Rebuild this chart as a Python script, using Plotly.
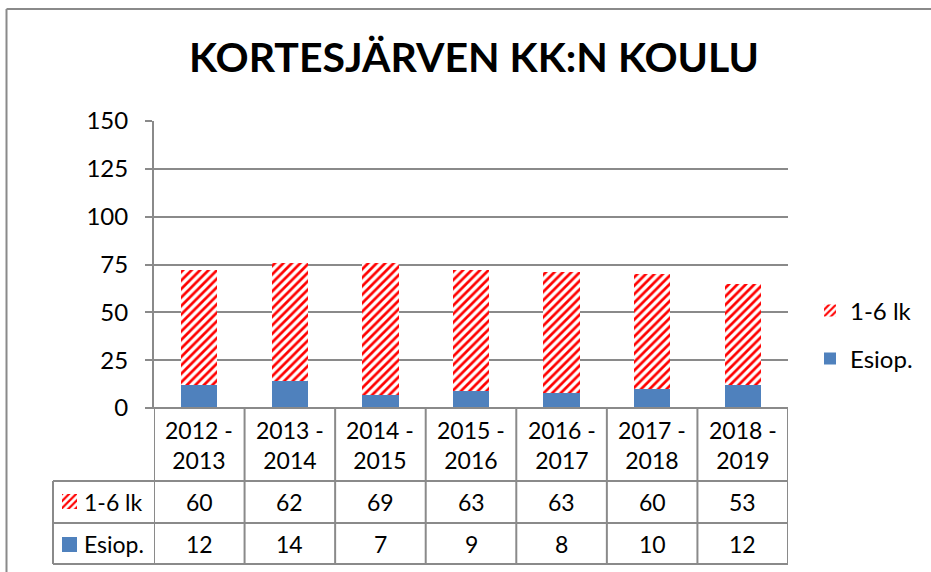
import plotly.graph_objects as go

categories = ["2012 - 2013", "2013 - 2014", "2014 - 2015", "2015 - 2016",
              "2016 - 2017", "2017 - 2018", "2018 - 2019"]
cat_labels = ["2012 -<br>2013", "2013 -<br>2014", "2014 -<br>2015", "2015 -<br>2016",
              "2016 -<br>2017", "2017 -<br>2018", "2018 -<br>2019"]
esiop = [12, 14, 7, 9, 8, 10, 12]
lk16 = [60, 62, 69, 63, 63, 60, 53]
y_ticks = [0, 25, 50, 75, 100, 125, 150]
title_text = "KORTESJÄRVEN KK:N KOULU"

W, H = 931, 572
FONT = "Lato"
GRID = "#8a8a8a"
BLUE = "#4F81BD"
RED = "#FF0000"


def px(x):
    return x / W


def py(y):
    return 1 - y / H


x_dom = [px(154), px(788)]
y_dom = [py(408), py(121)]

fig = go.Figure()

fig.add_trace(go.Bar(
    x=list(range(len(categories))), y=esiop, name="Esiop.",
    marker=dict(color=BLUE, line=dict(width=0)),
    width=0.4, legend="legend2", hoverinfo="skip",
))
fig.add_trace(go.Bar(
    x=list(range(len(categories))), y=lk16, name="1-6 lk",
    marker=dict(color="white", line=dict(width=0),
                pattern=dict(shape="/", fgcolor=RED, bgcolor="white",
                             size=6, solidity=0.45, fillmode="replace")),
    width=0.4, legend="legend", hoverinfo="skip",
))

# tiny pattern key in the data table
fig.add_trace(go.Bar(
    x=[0], y=[1], width=[1], showlegend=False, xaxis="x2", yaxis="y2",
    marker=dict(color="white", line=dict(width=0),
                pattern=dict(shape="/", fgcolor=RED, bgcolor="white",
                             size=5, solidity=0.45, fillmode="replace")),
    hoverinfo="skip",
))

shapes = []
line = dict(color=GRID, width=2)
# outer chart border (left + top)
shapes.append(dict(type="line", xref="paper", yref="paper",
                   x0=px(6.5), x1=px(6.5), y0=py(9), y1=0, line=line))
shapes.append(dict(type="line", xref="paper", yref="paper",
                   x0=px(6.5), x1=1, y0=py(9), y1=py(9), line=line))

# table horizontal lines
shapes.append(dict(type="line", xref="paper", yref="paper",
                   x0=px(147), x1=x_dom[1], y0=py(408), y1=py(408), line=line))
for yy in [481, 523, 564]:
    shapes.append(dict(type="line", xref="paper", yref="paper",
                       x0=px(53), x1=x_dom[1], y0=py(yy), y1=py(yy), line=line))
# table vertical lines at category boundaries
for k in range(len(categories) + 1):
    shapes.append(dict(type="line", xref="x", yref="paper",
                       x0=k - 0.5, x1=k - 0.5, y0=py(408), y1=py(564), line=line))
shapes.append(dict(type="line", xref="paper", yref="paper",
                   x0=px(53), x1=px(53), y0=py(481), y1=py(564), line=line))
# blue key square
shapes.append(dict(type="rect", xref="paper", yref="paper",
                   x0=px(62), x1=px(77), y0=py(552), y1=py(537),
                   fillcolor=BLUE, line=dict(width=0)))

annotations = []
tf = dict(family=FONT, size=23, color="black")
for i, lab in enumerate(cat_labels):
    annotations.append(dict(x=i, y=py(445), xref="x", yref="paper", text=lab,
                            showarrow=False, font=tf, align="center",
                            xanchor="center", yanchor="middle"))
    annotations.append(dict(x=i, y=py(502), xref="x", yref="paper", text=str(lk16[i]),
                            showarrow=False, font=tf, xanchor="center", yanchor="middle"))
    annotations.append(dict(x=i, y=py(543.5), xref="x", yref="paper", text=str(esiop[i]),
                            showarrow=False, font=tf, xanchor="center", yanchor="middle"))
annotations.append(dict(x=px(82), y=py(502), xref="paper", yref="paper", text="1-6 lk",
                        showarrow=False, font=tf, xanchor="left", yanchor="middle"))
annotations.append(dict(x=px(82), y=py(543.5), xref="paper", yref="paper", text="Esiop.",
                        showarrow=False, font=tf, xanchor="left", yanchor="middle"))

fig.update_layout(
    width=W, height=H,
    margin=dict(l=0, r=0, t=0, b=0, autoexpand=False),
    paper_bgcolor="white", plot_bgcolor="white",
    barmode="stack",
    title=dict(text=f"<b>{title_text}</b>", x=px(474), y=py(58),
               xanchor="center", yanchor="middle",
               font=dict(family=FONT, size=41, color="black")),
    xaxis=dict(domain=x_dom, range=[-0.5, len(categories) - 0.5],
               showticklabels=False, showgrid=False, zeroline=False,
               showline=False, ticks="", fixedrange=True),
    yaxis=dict(domain=y_dom, range=[0, 150], tickvals=y_ticks,
               showgrid=True, gridcolor=GRID, gridwidth=2,
               zeroline=False, showline=True, linecolor=GRID, linewidth=2,
               ticks="outside", ticklen=7, tickcolor=GRID, tickwidth=2,
               ticklabelstandoff=12, fixedrange=True,
               tickfont=dict(family=FONT, size=24, color="black")),
    xaxis2=dict(domain=[px(62), px(77)], range=[-0.5, 0.5], visible=False,
                anchor="y2", fixedrange=True),
    yaxis2=dict(domain=[py(509), py(494)], range=[0, 1], visible=False,
                anchor="x2", fixedrange=True),
    legend=dict(x=px(810), y=py(311), xanchor="left", yanchor="middle",
                font=dict(family=FONT, size=24, color="black"),
                bgcolor="rgba(0,0,0,0)", borderwidth=0),
    legend2=dict(x=px(810), y=py(359), xanchor="left", yanchor="middle",
                 font=dict(family=FONT, size=24, color="black"),
                 bgcolor="rgba(0,0,0,0)", borderwidth=0),
    shapes=shapes, annotations=annotations,
    showlegend=True,
)

fig.write_html("out.html", config={"displayModeBar": False},
               post_script="document.body.style.margin='0';document.body.style.overflow='hidden';")
